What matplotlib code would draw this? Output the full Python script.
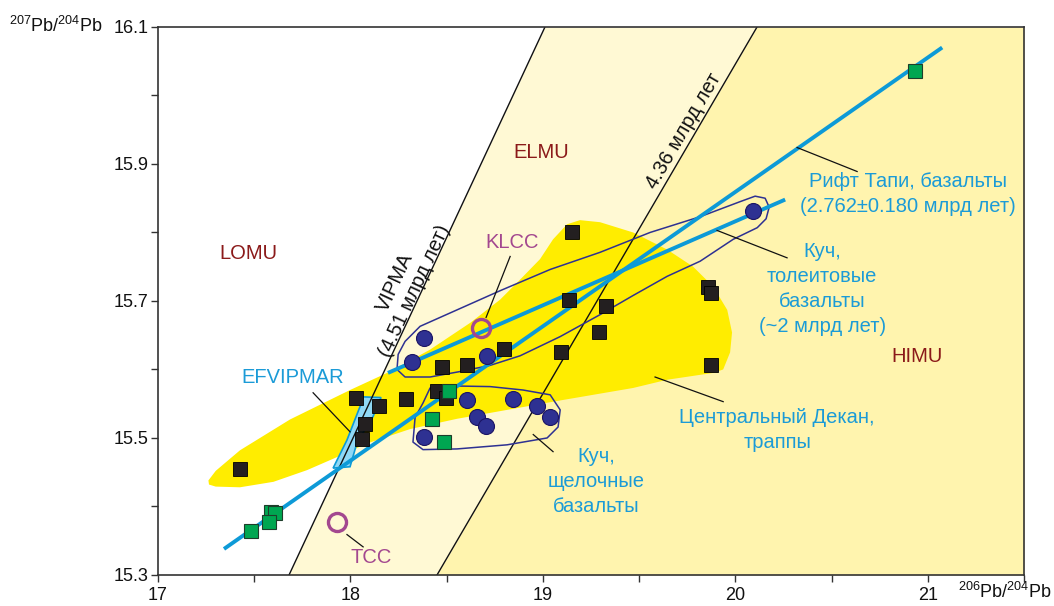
"""Pb-Pb isotope diagram: 207Pb/204Pb against 206Pb/204Pb for Kutch, Tapi and Deccan basalts."""

import matplotlib

matplotlib.use("Agg")

import matplotlib.pyplot as plt  # noqa: E402
from matplotlib.patches import Polygon  # noqa: E402
from matplotlib.ticker import MultipleLocator  # noqa: E402

plt.rcParams["font.family"] = ["Liberation Sans", "DejaVu Sans"]
plt.rcParams["mathtext.fontset"] = "custom"
plt.rcParams["mathtext.rm"] = "Liberation Sans"

# --- data ---------------------------------------------------------------------

# Central Deccan traps (black squares)
deccan_x = [17.426, 18.029, 18.149, 18.076, 18.060, 18.289, 18.450, 18.497, 18.476,
            18.606, 18.798, 19.095, 19.136, 19.328, 19.292, 19.152, 19.859, 19.874,
            19.874]
deccan_y = [15.455, 15.559, 15.547, 15.521, 15.499, 15.557, 15.568, 15.559, 15.604,
            15.607, 15.630, 15.625, 15.702, 15.693, 15.655, 15.801, 15.720, 15.712,
            15.607]

# Kutch basalts (blue circles): tholeiites and alkaline
kutch_x = [18.383, 18.320, 18.710, 20.093, 18.606, 18.845, 18.970, 19.037, 18.658,
           18.705, 18.383]
kutch_y = [15.646, 15.611, 15.620, 15.832, 15.556, 15.557, 15.547, 15.530, 15.530,
           15.518, 15.502]

# Tapi rift basalts (green squares)
tapi_x = [18.512, 18.424, 18.486, 17.587, 17.608, 17.577, 17.483, 20.934]
tapi_y = [15.568, 15.527, 15.494, 15.392, 15.391, 15.377, 15.364, 16.035]

# Crustal reference points (open rings)
crust_names = ["KLCC", "TCC"]
crust_x = [18.679, 17.930]
crust_y = [15.661, 15.377]

# Regression lines
tapi_line_x = [17.343, 21.075]
tapi_line_y = [15.338, 16.070]
kutch_line_x = [18.195, 20.259]
kutch_line_y = [15.595, 15.848]

# Geochrons
iso_y = [15.3, 16.1]
vipma_x = [17.681, 19.011]
iso436_x = [18.450, 20.113]

# Central Deccan field outline
deccan_field_x = [17.262, 17.300, 17.426, 17.686, 17.998, 18.206, 18.414, 18.622,
                  18.778, 18.881, 18.985, 19.053, 19.126, 19.193, 19.297, 19.469,
                  19.646, 19.781, 19.885, 19.958, 19.983, 19.973, 19.937, 19.885,
                  19.646, 19.469, 19.074, 18.554, 18.310, 18.086, 17.946, 17.774,
                  17.600, 17.426, 17.300, 17.265]
deccan_field_y = [15.438, 15.452, 15.482, 15.527, 15.570, 15.597, 15.629, 15.668,
                  15.702, 15.731, 15.761, 15.790, 15.812, 15.818, 15.815, 15.800,
                  15.775, 15.750, 15.721, 15.687, 15.654, 15.625, 15.600, 15.595,
                  15.585, 15.573, 15.554, 15.528, 15.513, 15.492, 15.474, 15.453,
                  15.436, 15.428, 15.429, 15.432]

# Kutch tholeiite envelope
thol_field_x = [18.362, 18.570, 18.778, 19.038, 19.297, 19.557, 19.817, 20.025,
                20.103, 20.155, 20.176, 20.160, 20.114, 19.989, 19.817, 19.646,
                19.469, 19.297, 19.090, 18.882, 18.726, 18.570, 18.414, 18.284,
                18.242, 18.248, 18.284]
thol_field_y = [15.663, 15.689, 15.715, 15.746, 15.771, 15.800, 15.823, 15.845,
                15.853, 15.850, 15.837, 15.820, 15.807, 15.790, 15.758, 15.736,
                15.708, 15.680, 15.648, 15.620, 15.606, 15.597, 15.589, 15.589,
                15.600, 15.622, 15.641]

# Kutch alkaline envelope
alk_field_x = [18.377, 18.414, 18.518, 18.726, 18.897, 19.038, 19.090, 19.079,
               19.022, 18.814, 18.554, 18.377, 18.325, 18.336]
alk_field_y = [15.551, 15.573, 15.576, 15.575, 15.570, 15.563, 15.541, 15.516,
               15.500, 15.490, 15.484, 15.483, 15.494, 15.530]

# EFVIPMAR field
efv_field_x = [17.910, 17.998, 18.034, 18.117, 18.159, 18.066, 18.050, 17.982]
efv_field_y = [15.456, 15.458, 15.493, 15.531, 15.559, 15.560, 15.546, 15.497]

# Leader lines: (x0, x1), (y0, y1)
leaders = [
    ((17.806, 17.998), (15.566, 15.509)),  # EFVIPMAR
    ((18.830, 18.705), (15.765, 15.676)),  # KLCC
    ((17.982, 18.066), (15.359, 15.341)),  # TCC
    ((20.321, 20.633), (15.924, 15.889)),  # Рифт Тапи
    ((19.905, 20.269), (15.803, 15.763)),  # Куч, толеиты
    ((18.950, 19.053), (15.505, 15.480)),  # Куч, щелочные
    ((19.583, 19.937), (15.589, 15.553)),  # Центральный Декан
]

# --- colours -------------------------------------------------------------------
CREAM = "#FFF9D4"
PALE_YELLOW = "#FFF4AE"
FIELD_YELLOW = "#FFED00"
LINE_BLUE = "#0D9AD7"
TEXT_BLUE = "#1B9BD7"
NAVY = "#2E3192"
DARK_RED = "#8B1A1A"
MAGENTA = "#A3488F"

fig = plt.figure(figsize=(10.54, 6.06), dpi=100)
ax = fig.add_axes([0.1499, 0.0512, 0.8216, 0.9043])
ax.set_xlim(17, 21.5)
ax.set_ylim(15.3, 16.1)

# background sectors between geochrons
ax.fill_betweenx(iso_y, vipma_x, iso436_x, color=CREAM, lw=0, zorder=0)
ax.fill_betweenx(iso_y, iso436_x, [21.5, 21.5], color=PALE_YELLOW, lw=0, zorder=0)

ax.add_patch(Polygon(list(zip(deccan_field_x, deccan_field_y)), closed=True,
                     fc=FIELD_YELLOW, ec="none", zorder=1))
ax.add_patch(Polygon(list(zip(efv_field_x, efv_field_y)), closed=True,
                     fc="#8FD8F6", ec=LINE_BLUE, lw=1.2, zorder=2))

ax.plot(vipma_x, iso_y, color="#111111", lw=1.0, zorder=3)
ax.plot(iso436_x, iso_y, color="#111111", lw=1.0, zorder=3)

for fx, fy in [(thol_field_x, thol_field_y), (alk_field_x, alk_field_y)]:
    ax.add_patch(Polygon(list(zip(fx, fy)), closed=True, fill=False, ec=NAVY,
                         lw=1.1, joinstyle="round", zorder=4))

ax.plot(tapi_line_x, tapi_line_y, color=LINE_BLUE, lw=2.8, solid_capstyle="butt", zorder=5)
ax.plot(kutch_line_x, kutch_line_y, color=LINE_BLUE, lw=2.8, solid_capstyle="butt", zorder=5)

for lx, ly in leaders:
    ax.plot(lx, ly, color="#111111", lw=0.9, zorder=5)

ax.plot(deccan_x, deccan_y, "s", ms=9.5, mfc="#231F20", mec="#000000", mew=0.6, zorder=6)
ax.plot(kutch_x, kutch_y, "o", ms=11.5, mfc=NAVY, mec="#1B1464", mew=0.8, zorder=6)
ax.plot(tapi_x, tapi_y, "s", ms=9.5, mfc="#00A651", mec="#1E3D2A", mew=0.8, zorder=6)
ax.plot(crust_x, crust_y, "o", ms=13, mfc="none", mec=MAGENTA, mew=2.4, zorder=6)

# --- labels --------------------------------------------------------------------
fs = 14.5
ls = 1.4
ax.text(17.468, 15.769, "LOMU", color=DARK_RED, fontsize=fs, ha="center", va="center")
ax.text(18.991, 15.917, "ELMU", color=DARK_RED, fontsize=fs, ha="center", va="center")
ax.text(20.945, 15.619, "HIMU", color=DARK_RED, fontsize=fs, ha="center", va="center")
ax.text(18.840, 15.785, crust_names[0], color=MAGENTA, fontsize=fs, ha="center", va="center")
ax.text(18.107, 15.326, crust_names[1], color=MAGENTA, fontsize=fs, ha="center", va="center")
ax.text(17.702, 15.589, "EFVIPMAR", color=TEXT_BLUE, fontsize=fs, ha="center", va="center")
ax.text(20.899, 15.856, "Рифт Тапи, базальты\n(2.762±0.180 млрд лет)", color=TEXT_BLUE,
        fontsize=fs, ha="center", va="center", linespacing=ls)
ax.text(20.451, 15.717, "Куч,\nтолеитовые\nбазальты\n(~2 млрд лет)", color=TEXT_BLUE,
        fontsize=fs, ha="center", va="center", linespacing=ls)
ax.text(20.217, 15.512, "Центральный Декан,\nтраппы", color=TEXT_BLUE,
        fontsize=fs, ha="center", va="center", linespacing=ls)
ax.text(19.277, 15.436, "Куч,\nщелочные\nбазальты", color=TEXT_BLUE,
        fontsize=fs, ha="center", va="center", linespacing=ls)
ax.text(18.284, 15.721, "VIPMA\n(4.51 млрд лет)", color="#111111", fontsize=fs,
        ha="center", va="center", rotation=65, rotation_mode="anchor", linespacing=1.2)
ax.text(19.734, 15.948, "4.36 млрд лет", color="#111111", fontsize=fs,
        ha="center", va="center", rotation=59.7, rotation_mode="anchor")

# --- axes styling --------------------------------------------------------------
ax.xaxis.set_major_locator(MultipleLocator(1))
ax.xaxis.set_minor_locator(MultipleLocator(0.5))
ax.yaxis.set_minor_locator(MultipleLocator(0.1))
ax.set_yticks([15.3, 15.5, 15.7, 15.9, 16.1])
ax.set_yticklabels(["15.3", "15.5", "15.7", "15.9", "16.1"])
ax.tick_params(which="both", direction="out", length=5, width=1.0, color="#333333",
               labelsize=13, labelcolor="#111111")
ax.tick_params(axis="x", pad=4)
ax.tick_params(axis="y", pad=2)
for spine in ax.spines.values():
    spine.set_color("#333333")
    spine.set_linewidth(1.2)
    spine.set_zorder(8)

fig.text(103 / 1054, 1 - 26 / 606, r"$^{207}$Pb/$^{204}$Pb", fontsize=13,
         ha="right", va="center", color="#111111")
fig.text(958 / 1054, 1 - 592 / 606, r"$^{206}$Pb/$^{204}$Pb", fontsize=13,
         ha="left", va="center", color="#111111")

fig.savefig("out.png", dpi=100)
